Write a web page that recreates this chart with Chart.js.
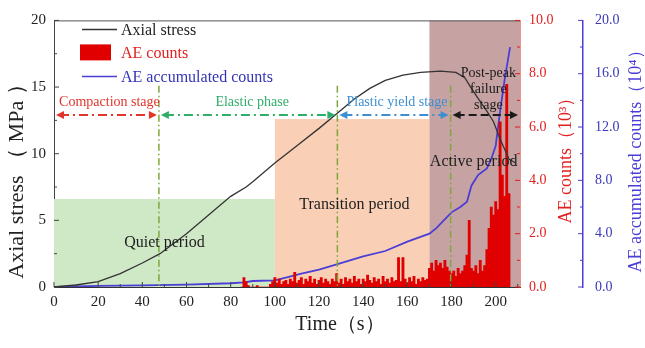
<!DOCTYPE html>
<html>
<head>
<meta charset="utf-8">
<script src="https://cdn.jsdelivr.net/npm/chart.js@4.4.0/dist/chart.umd.min.js"></script>
<style>
  html, body { margin: 0; padding: 0; background: #fff; }
</style>
</head>
<body>
<canvas id="chart" width="645" height="348"></canvas>
<script>
// axial stress (MPa) vs time (s)
const stressTime = [0, 10, 20, 30, 40, 48, 60, 70, 80, 87, 90, 100, 110, 120, 128, 136, 143, 150, 158, 166, 175, 182, 186, 189, 193, 196, 199, 202, 206, 209];
const stress     = [0, 0.15, 0.4, 1.0, 1.8, 2.5, 4.0, 5.4, 6.8, 7.5, 7.9, 9.3, 10.6, 11.9, 13.0, 14.1, 14.9, 15.5, 15.9, 16.1, 16.2, 16.1, 15.7, 14.9, 13.9, 13.2, 12.4, 11.1, 9.6, 9.3];

// AE accumulated counts (x10^4)
const accTime = [0, 20, 40, 60, 80, 86, 90, 100, 105, 112, 120, 128, 140, 150, 160, 170, 173, 180, 184, 187, 189, 192, 196, 198, 200, 202, 204, 206.5];
const accCounts = [0, 0.08, 0.12, 0.18, 0.28, 0.35, 0.45, 0.5, 0.7, 1.0, 1.3, 1.7, 2.3, 2.7, 3.4, 4.0, 4.4, 5.6, 6.0, 6.4, 7.6, 8.4, 8.9, 9.6, 10.6, 13.2, 15.5, 18.0];

// AE counts (x10^3), one value per second starting at aeStart
const aeStart = 85;
const aeCounts = [
  0, 0.35, 0.2, 0.05, 0, 0, 0, 0.05, 0, 0, 0, 0, 0, 0.1, 0.2,
  0.35, 0.15, 0.3, 0.1, 0.2, 0.25, 0.1, 0.3, 0.2, 0.55, 0.15, 0.25, 0.35, 0.1, 0.3,
  0.2, 0.4, 0.15, 0.3, 0.1, 0.25, 0.35, 0.15, 0.3, 0.2, 0.1, 0.3, 0.2, 0.5, 0.15,
  0.3, 0.1, 0.35, 0.2, 0.3, 0.15, 0.4, 0.2, 0.3, 0.1, 0.3, 0.2, 0.45, 0.25, 0.15,
  0.35, 0.2, 0.3, 0.1, 0.4, 0.2, 0.3, 0.15, 0.35, 0.2, 0.25, 1.1, 0.2, 1.1, 0.3,
  0.15, 0.35, 0.2, 0.4, 0.1, 0.3, 0.2, 0.35, 0.25, 0.3,
  0.7, 0.9, 0.6, 1.0, 0.8, 0.9, 0.7, 1.0, 0.75, 0.6,
  0.5, 0.6, 0.4, 0.7, 0.5, 0.6, 0.8, 1.2, 2.5, 0.7,
  0.6, 0.8, 0.5, 1.0, 0.6, 0.8, 1.4, 2.2, 3.0, 2.7,
  3.2, 2.9, 6.2, 4.2, 3.4, 7.6, 3.5
];

// loading stages (s) and stage arrow level (MPa)
const stageBounds = [0, 47.5, 128.3, 179.6, 211];
const stageNames = ['Compaction stage', 'Elastic phase', 'Plastic yield stage', ['Post-peak', 'failure', 'stage']];
const stageLevel = 12.9;
const dividerTop = 15.1;

// AE periods: start, end (s), height (MPa)
const periodStart = [0, 100, 170];
const periodEnd = [100, 170, 211];
const periodTop = [6.6, 12.6, 20];
const periodNames = ['Quiet period', 'Transition period', 'Active period'];
const periodLabelAt = [[50, 3.3], [136, 6.2], [190, 9.4]];

const serif = 'Liberation Serif';
const RED = '#e21f1f';
const BLUE = '#4a3ed6';
const BLACK = '#333333';

const stageColors = ['#e3342c', '#2fae6a', '#3d8fd2', '#1a1a1a'];
const periodColors = ['#cfe8c6', '#f9cfb6', '#c7a2a2'];

function arrowHead(ctx, x, y, dir) {
  ctx.beginPath();
  ctx.moveTo(x, y);
  ctx.lineTo(x - dir * 8, y - 4);
  ctx.lineTo(x - dir * 8, y + 4);
  ctx.closePath();
  ctx.fill();
}

const overlay = {
  id: 'overlay',
  beforeDatasetsDraw(chart) {
    const { ctx, chartArea: a, scales: { x, y } } = chart;
    ctx.save();
    periodStart.forEach((s, i) => {
      const x0 = x.getPixelForValue(s);
      const x1 = Math.min(x.getPixelForValue(periodEnd[i]), a.right);
      const yt = y.getPixelForValue(periodTop[i]);
      ctx.fillStyle = periodColors[i];
      ctx.fillRect(x0, yt, x1 - x0, a.bottom - yt);
    });
    ctx.restore();
  },
  afterDatasetsDraw(chart) {
    const { ctx, chartArea: a, scales: { x, y } } = chart;
    ctx.save();
    // stage dividers
    ctx.strokeStyle = '#7da83c';
    ctx.lineWidth = 1.5;
    ctx.setLineDash([7, 3, 1.5, 3]);
    for (let i = 1; i < stageBounds.length - 1; i++) {
      const px = x.getPixelForValue(stageBounds[i]);
      ctx.beginPath();
      ctx.moveTo(px, y.getPixelForValue(dividerTop));
      ctx.lineTo(px, a.bottom);
      ctx.stroke();
    }
    // stage arrows
    const ay = y.getPixelForValue(stageLevel);
    for (let i = 0; i < stageNames.length; i++) {
      const x0 = x.getPixelForValue(stageBounds[i]) + 2;
      const x1 = Math.min(x.getPixelForValue(stageBounds[i + 1]), a.right) - 2;
      ctx.strokeStyle = stageColors[i];
      ctx.fillStyle = stageColors[i];
      ctx.lineWidth = 2;
      ctx.setLineDash(i === 3 ? [8, 4] : [9, 4, 2, 4]);
      ctx.beginPath();
      ctx.moveTo(x0 + 4, ay);
      ctx.lineTo(x1 - 4, ay);
      ctx.stroke();
      ctx.setLineDash([]);
      arrowHead(ctx, x0, ay, -1);
      arrowHead(ctx, x1, ay, 1);
      ctx.font = '14px ' + serif;
      ctx.textAlign = 'center';
      ctx.textBaseline = 'middle';
      const cx = (x0 + x1) / 2 + (i === 1 ? 4 : 3);
      const name = stageNames[i];
      if (Array.isArray(name)) {
        name.forEach((t, k) => ctx.fillText(t, cx, ay - 42 + k * 16));
      } else {
        ctx.fillText(name, cx, ay - 13);
      }
    }
    // period labels
    ctx.fillStyle = '#1e1e1e';
    ctx.font = '16px ' + serif;
    periodNames.forEach((n, i) => {
      ctx.fillText(n, x.getPixelForValue(periodLabelAt[i][0]), y.getPixelForValue(periodLabelAt[i][1]));
    });
    ctx.restore();
  },
  afterDraw(chart) {
    const { ctx, chartArea: a, scales } = chart;
    const { x, y, y1, y2 } = scales;
    ctx.save();
    // top frame
    ctx.strokeStyle = '#555';
    ctx.lineWidth = 1;
    ctx.beginPath();
    ctx.moveTo(a.left, a.top + 0.5);
    ctx.lineTo(a.right, a.top + 0.5);
    ctx.stroke();
    // inward ticks
    const tick = (sc, step, color, axisPos, dir, vertical) => {
      ctx.strokeStyle = color;
      ctx.beginPath();
      for (let v = sc.min, k = 0; v <= sc.max + 1e-9; v += step / 2, k++) {
        const p = sc.getPixelForValue(v);
        const len = k % 2 === 0 ? 5 : 3;
        if (vertical) { ctx.moveTo(axisPos, p); ctx.lineTo(axisPos + dir * len, p); }
        else { ctx.moveTo(p, axisPos); ctx.lineTo(p, axisPos + dir * len); }
      }
      ctx.stroke();
    };
    tick(y, 5, '#444', a.left, 1, true);
    tick(x, 20, '#444', a.bottom, -1, false);
    tick(y1, 2, RED, a.right, -1, true);
    tick(y2, 4, BLUE, y2.left, -1, true);

    // axis titles
    ctx.textAlign = 'center';
    ctx.textBaseline = 'middle';
    ctx.fillStyle = '#222';
    ctx.font = '20px ' + serif;
    ctx.fillText('Time（s）', 340, 325);
    const vTitle = (text, cx, cy, color) => {
      ctx.save();
      ctx.translate(cx, cy);
      ctx.rotate(-Math.PI / 2);
      ctx.fillStyle = color;
      ctx.fillText(text, 0, 0);
      ctx.restore();
    };
    ctx.font = '22px ' + serif;
    vTitle('Axial stress （ MPa ）', 17, 176, '#222');
    ctx.font = '18px ' + serif;
    vTitle('AE counts（10³）', 566, 156, RED);
    vTitle('AE accumulated counts（10⁴）', 636, 157, BLUE);

    // legend
    ctx.font = '16px ' + serif;
    ctx.textAlign = 'left';
    const lx = a.left + 28, rows = [a.top + 9, a.top + 32, a.top + 56];
    chart.data.datasets.forEach((ds, i) => {
      const ly = rows[i];
      if (ds.type === 'bar') {
        ctx.fillStyle = ds.backgroundColor;
        ctx.fillRect(lx - 2, ly - 8, 31, 16);
      } else {
        ctx.strokeStyle = ds.borderColor;
        ctx.lineWidth = 1.5;
        ctx.beginPath();
        ctx.moveTo(lx, ly);
        ctx.lineTo(lx + 35, ly);
        ctx.stroke();
      }
      ctx.fillStyle = ds.legendColor;
      ctx.fillText(ds.label, lx + 39, ly + 1);
    });
    ctx.restore();
  }
};

const chart = new Chart(document.getElementById('chart'), {
  type: 'line',
  data: {
    datasets: [
      {
        label: 'Axial stress', type: 'line', yAxisID: 'y',
        data: stressTime.map((t, i) => ({ x: t, y: stress[i] })),
        borderColor: BLACK, borderWidth: 1.3, pointRadius: 0, legendColor: '#222'
      },
      {
        label: 'AE counts', type: 'bar', yAxisID: 'y1',
        data: aeCounts.map((v, i) => ({ x: aeStart + i, y: v })),
        backgroundColor: '#e00000', borderWidth: 0,
        barPercentage: 1, categoryPercentage: 1, legendColor: RED
      },
      {
        label: 'AE accumulated counts', type: 'line', yAxisID: 'y2',
        data: accTime.map((t, i) => ({ x: t, y: accCounts[i] })),
        borderColor: BLUE, borderWidth: 1.8, pointRadius: 0, legendColor: '#3434b8'
      }
    ]
  },
  options: {
    responsive: false,
    animation: false,
    layout: { padding: { top: 17, left: 0, right: 0, bottom: 0 } },
    plugins: { legend: { display: false }, tooltip: { enabled: false } },
    scales: {
      x: {
        type: 'linear', min: 0, max: 211, offset: false,
        grid: { display: false, drawTicks: false, offset: false },
        border: { color: '#333', width: 1 },
        ticks: { stepSize: 20, includeBounds: false, color: '#222', font: { family: serif, size: 15 }, padding: 6, maxRotation: 0 },
        afterFit(s) { s.height = 61; }
      },
      y: {
        position: 'left', min: 0, max: 20,
        grid: { display: false, drawTicks: false },
        border: { color: '#444', width: 1 },
        ticks: { stepSize: 5, color: '#222', font: { family: serif, size: 15 }, padding: 8 },
        afterFit(s) { s.width = 54; }
      },
      y1: {
        position: 'right', min: 0, max: 10,
        grid: { display: false, drawTicks: false },
        border: { color: RED, width: 1.5 },
        ticks: { stepSize: 2, color: RED, font: { family: serif, size: 14 }, padding: 9, callback: v => v.toFixed(1) },
        afterFit(s) { s.width = 63; }
      },
      y2: {
        position: 'right', min: 0, max: 20,
        grid: { display: false, drawTicks: false },
        border: { color: BLUE, width: 1.5 },
        ticks: { stepSize: 4, color: '#3a3ab8', font: { family: serif, size: 14 }, padding: 12, callback: v => v.toFixed(1) },
        afterFit(s) { s.width = 62; }
      }
    }
  },
  plugins: [overlay]
});
</script>
</body>
</html>
